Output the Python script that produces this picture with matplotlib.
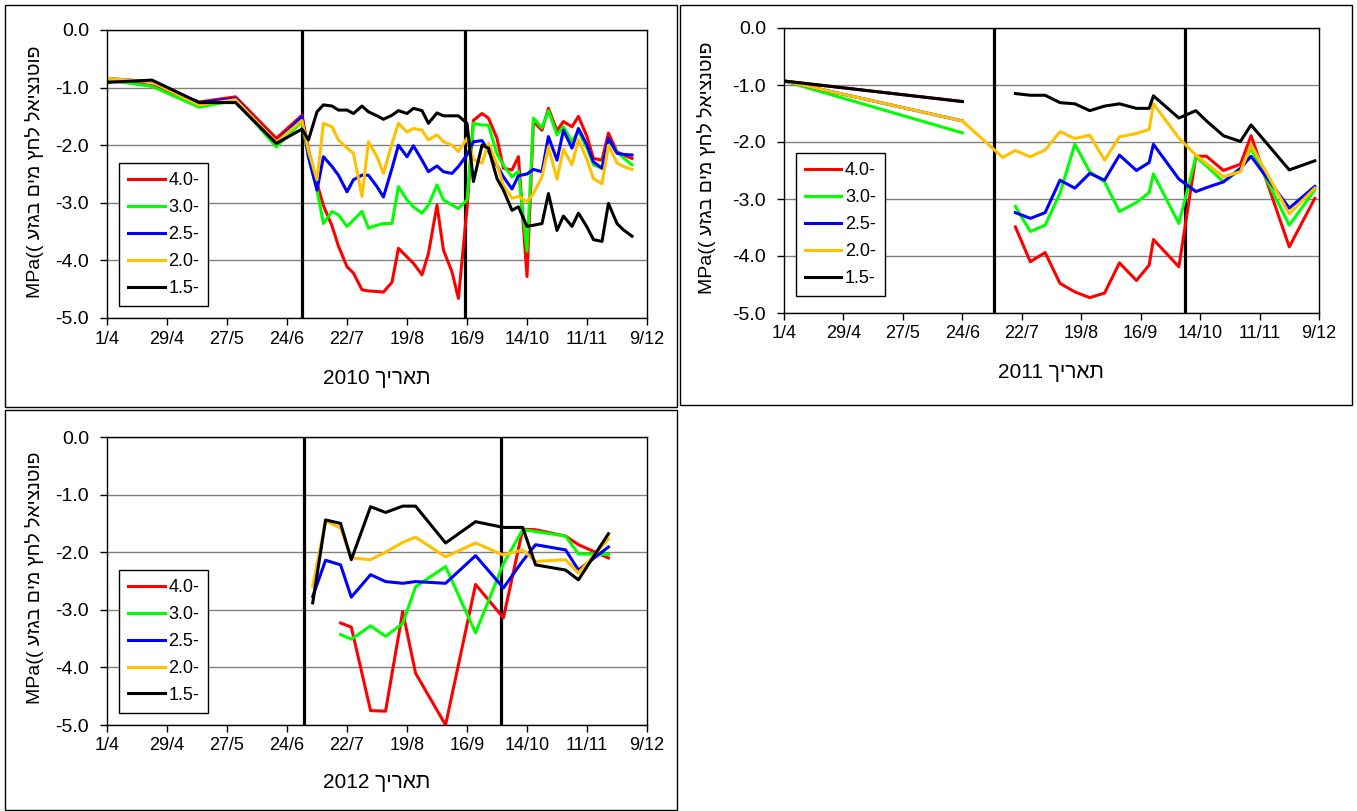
import re

import matplotlib
matplotlib.use('Agg')
import matplotlib.pyplot as plt
import numpy as np
from matplotlib.patches import Rectangle

plt.rcParams['font.family'] = ['Liberation Sans', 'DejaVu Sans']

# x axis: days counted from 1 April
tick_days = [0, 28, 56, 84, 112, 140, 168, 196, 224, 252]
tick_labels = ['1/4', '29/4', '27/5', '24/6', '22/7', '19/8', '16/9', '14/10', '11/11', '9/12']
depth_labels = ['4.0-', '3.0-', '2.5-', '2.0-', '1.5-']
depth_colors = ['#FF0000', '#00FF00', '#0000FF', '#FFC000', '#000000']
ylabel_text = 'פוטנציאל לחץ מים בגזע ((MPa'
xlabel_word = 'תאריך'

# ---- 2010 ----
days_2010 = [0, 21, 43, 60, 79,
             91, 94, 98, 101, 105, 108, 112, 115, 119, 122, 126, 129, 133, 136, 140,
             143, 147, 150, 154, 157, 161, 164, 168, 171, 175, 178, 182, 185, 189, 192,
             196, 199, 203, 206, 210, 213, 217, 220, 224, 227, 231, 234, 238, 241, 245]
red_2010 = [-0.84, -0.97, -1.25, -1.16, -1.88,
            -1.48, -2.08, -2.66, -3.05, -3.40, -3.75, -4.11, -4.22, -4.51, -4.53, -4.54,
            -4.55, -4.38, -3.79, -3.94, -4.05, -4.25, -3.88, -3.04, -3.82, -4.20, -4.66,
            -3.10, -1.57, -1.45, -1.53, -1.88, -2.40, -2.43, -2.20, -4.28, -1.59, -1.74,
            -1.36, -1.75, -1.59, -1.68, -1.50, -1.85, -2.23, -2.26, -1.79, -2.11, -2.17, -2.23]
green_2010 = [-0.87, -0.98, -1.34, -1.22, -2.03,
              -1.59, -2.20, -2.78, -3.36, -3.15, -3.21, -3.41, -3.30, -3.15, -3.44, -3.39,
              -3.36, -3.36, -2.72, -2.95, -3.07, -3.18, -3.04, -2.69, -2.95, -3.04, -3.10,
              -2.95, -1.62, -1.65, -1.65, -2.15, -2.35, -2.55, -2.45, -3.84, -1.53, -1.70,
              -1.40, -1.82, -1.68, -1.94, -1.75, -2.05, -2.34, -2.40, -1.91, -2.11, -2.22, -2.34]
blue_2010 = [-0.84, -0.90, -1.26, -1.19, -1.95,
             -1.50, -2.20, -2.78, -2.20, -2.37, -2.52, -2.81, -2.60, -2.52, -2.52, -2.72,
             -2.90, -2.40, -2.00, -2.20, -2.01, -2.26, -2.46, -2.36, -2.46, -2.49, -2.37,
             -2.17, -1.94, -1.92, -2.10, -2.35, -2.55, -2.76, -2.53, -2.50, -2.42, -2.46,
             -1.85, -2.26, -1.74, -2.05, -1.71, -2.00, -2.29, -2.40, -1.88, -2.14, -2.16, -2.17]
yellow_2010 = [-0.84, -0.90, -1.30, -1.21, -1.95,
               -1.57, -2.10, -2.60, -1.62, -1.68, -1.91, -2.05, -2.14, -2.89, -1.94, -2.20,
               -2.49, -1.97, -1.62, -1.77, -1.71, -1.74, -1.91, -1.82, -1.94, -2.00, -2.11,
               -1.88, -2.25, -2.31, -1.97, -2.33, -2.70, -2.92, -2.89, -2.98, -2.84, -2.55,
               -2.03, -2.59, -2.07, -2.34, -1.90, -2.25, -2.58, -2.67, -2.00, -2.31, -2.37, -2.42]
black_2010 = [-0.91, -0.87, -1.26, -1.26, -1.97,
              -1.72, -1.91, -1.42, -1.30, -1.32, -1.39, -1.39, -1.45, -1.32, -1.42, -1.49,
              -1.55, -1.48, -1.40, -1.45, -1.36, -1.40, -1.62, -1.44, -1.49, -1.49, -1.49,
              -1.62, -2.63, -2.00, -2.05, -2.58, -2.78, -3.13, -3.07, -3.41, -3.39, -3.36,
              -2.84, -3.48, -3.23, -3.41, -3.18, -3.42, -3.64, -3.67, -3.01, -3.36, -3.47, -3.58]
marks_2010 = [91, 167]

# ---- 2011 ----
days_2011 = [0, 84, 103, 109, 116, 123, 130, 137, 144, 151, 158, 166, 172, 174,
             186, 194, 199, 207, 215, 220, 238, 250]
red_2011 = [-0.93, -1.29, None, -3.49, -4.10, -3.94, -4.48, -4.63, -4.73, -4.65, -4.12,
            -4.43, -4.16, -3.71, -4.19, -2.25, -2.25, -2.50, -2.39, -1.89, -3.84, -2.99]
green_2011 = [-0.93, -1.84, None, -3.13, -3.57, -3.46, -2.90, -2.04, -2.52, -2.70, -3.22,
              -3.06, -2.89, -2.56, -3.43, -2.26, -2.42, -2.70, -2.49, -2.11, -3.46, -2.84]
blue_2011 = [-0.93, -1.63, None, -3.24, -3.34, -3.24, -2.67, -2.81, -2.55, -2.67, -2.23,
             -2.50, -2.36, -2.04, -2.65, -2.87, -2.80, -2.70, -2.46, -2.25, -3.16, -2.78]
yellow_2011 = [-0.93, -1.63, -2.27, -2.15, -2.26, -2.14, -1.82, -1.94, -1.88, -2.32, -1.91,
               -1.85, -1.78, -1.33, -1.93, -2.23, -2.38, -2.61, -2.52, -2.05, -3.26, -2.81]
black_2011 = [-0.93, -1.29, None, -1.15, -1.18, -1.18, -1.31, -1.33, -1.45, -1.37, -1.33,
              -1.41, -1.41, -1.19, -1.58, -1.45, -1.63, -1.89, -1.99, -1.70, -2.49, -2.33]
marks_2011 = [99, 189]

# ---- 2012 ----
days_2012 = [96, 102, 109, 114, 123, 130, 138, 144, 158, 172, 185, 194, 200, 214, 220, 234]
red_2012 = [None, None, -3.23, -3.30, -4.75, -4.76, -3.03, -4.10, -5.00, -2.56, -3.14,
            -1.60, -1.61, -1.72, -1.87, -2.10]
green_2012 = [None, None, -3.43, -3.51, -3.28, -3.46, -3.24, -2.60, -2.25, -3.40, -2.20,
              -1.61, -1.64, -1.72, -2.03, -2.04]
blue_2012 = [-2.77, -2.14, -2.22, -2.78, -2.39, -2.51, -2.54, -2.51, -2.54, -2.06, -2.62,
             -2.15, -1.87, -1.96, -2.31, -1.91]
yellow_2012 = [-2.59, -1.46, -1.58, -2.10, -2.13, -2.00, -1.83, -1.74, -2.08, -1.84, -2.05,
               -1.96, -2.16, -2.13, -2.36, -1.77]
black_2012 = [-2.88, -1.44, -1.50, -2.13, -1.21, -1.31, -1.20, -1.20, -1.84, -1.47, -1.57,
              -1.57, -2.22, -2.31, -2.48, -1.68]
marks_2012 = [92, 184]


def visual(text):
    # matplotlib lays text out left to right, so Hebrew runs are reversed here
    out = text[::-1]
    return re.sub(r'[0-9A-Za-z.]+', lambda m: m.group(0)[::-1], out)


fig = plt.figure(figsize=(13.57, 8.11), dpi=100)
W, H = 1357.0, 811.0


def px_rect(x0, y0, x1, y1):
    return [x0 / W, 1 - y1 / H, (x1 - x0) / W, (y1 - y0) / H]


def panel(frame, plot_px, days, series, marks, year, legend_top, xlab_xy, ylab_xy):
    fig.add_artist(Rectangle((frame[0], frame[1]), frame[2], frame[3],
                             transform=fig.transFigure, fill=False,
                             edgecolor='black', lw=1))
    ax = fig.add_axes(px_rect(*plot_px))
    for d in marks:
        ax.axvline(d, color='black', lw=2.3, zorder=1.5)
    for vals, lab, col in zip(series, depth_labels, depth_colors):
        y = np.array([np.nan if v is None else v for v in vals], dtype=float)
        ax.plot(days, y, color=col, lw=2.2, label=lab, zorder=2)
    ax.set_xlim(0, 252)
    ax.set_ylim(-5, 0)
    ax.set_xticks(tick_days, tick_labels)
    yt = [0, -1, -2, -3, -4, -5]
    ax.set_yticks(yt, ['%.1f' % v if v == 0 else '-%.1f' % abs(v) for v in yt])
    ax.yaxis.grid(True, color='#808080', lw=1)
    ax.set_axisbelow(True)
    ax.tick_params(direction='out', length=5, width=1)
    ax.tick_params(axis='x', labelsize=13, pad=4)
    ax.tick_params(axis='y', labelsize=14, pad=8)
    for s in ax.spines.values():
        s.set_color('black')
        s.set_linewidth(1)
    leg = ax.legend(loc='upper left', bbox_to_anchor=(0.023, legend_top),
                    fontsize=13, frameon=True, fancybox=False, edgecolor='black',
                    framealpha=1, handlelength=2.0, handletextpad=0.2,
                    labelspacing=0.55, borderpad=0.5, borderaxespad=0)
    leg.get_frame().set_linewidth(1)
    fig.text(xlab_xy[0] / W, 1 - xlab_xy[1] / H, visual(xlabel_word + ' ' + year),
             ha='center', va='center', fontsize=15)
    fig.text(ylab_xy[0] / W, 1 - ylab_xy[1] / H, visual(ylabel_text),
             ha='center', va='center', rotation=90, fontsize=14)
    return ax


panel([5 / W, 1 - 407 / H, 672 / W, 402 / H], (107, 30, 647, 318), days_2010,
      [red_2010, green_2010, blue_2010, yellow_2010, black_2010], marks_2010, '2010',
      0.537, (377, 378), (35, 172))
panel([680 / W, 1 - 405 / H, 672 / W, 400 / H], (784, 28, 1319, 313), days_2011,
      [red_2011, green_2011, blue_2011, yellow_2011, black_2011], marks_2011, '2011',
      0.56, (1051, 373), (707, 168))
panel([5 / W, 1 - 810 / H, 672 / W, 400 / H], (107, 437, 647, 725), days_2012,
      [red_2012, green_2012, blue_2012, yellow_2012, black_2012], marks_2012, '2012',
      0.538, (377, 783), (35, 578))

fig.savefig('out.png', dpi=100)
